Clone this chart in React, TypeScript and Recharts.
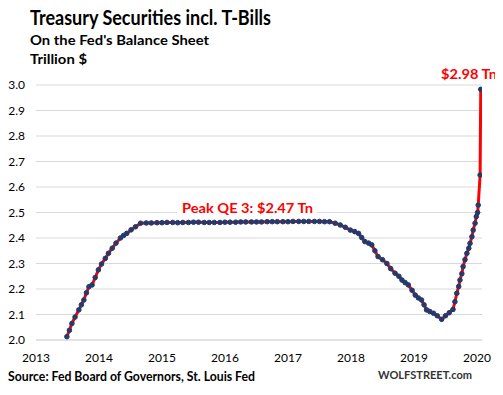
import { CartesianGrid, Line, LineChart, XAxis, YAxis } from 'recharts';

const years = [
  2013.49, 2013.53, 2013.57, 2013.62, 2013.68, 2013.72, 2013.76, 2013.8, 2013.84, 2013.89,
  2013.94, 2013.99, 2014.04, 2014.1, 2014.15, 2014.21, 2014.27, 2014.34, 2014.39, 2014.44,
  2014.51, 2014.58, 2014.66, 2014.75, 2014.83, 2014.92, 2015.0, 2015.08, 2015.17, 2015.25,
  2015.33, 2015.42, 2015.5, 2015.58, 2015.67, 2015.75, 2015.83, 2015.92, 2016.0, 2016.08,
  2016.17, 2016.25, 2016.33, 2016.42, 2016.5, 2016.58, 2016.67, 2016.75, 2016.83, 2016.92,
  2017.0, 2017.08, 2017.17, 2017.25, 2017.33, 2017.42, 2017.5, 2017.58, 2017.66, 2017.75,
  2017.83, 2017.91, 2017.99, 2018.06, 2018.12, 2018.17, 2018.22, 2018.28, 2018.33, 2018.38,
  2018.43, 2018.5, 2018.57, 2018.63, 2018.7, 2018.76, 2018.81, 2018.86, 2018.91, 2018.97,
  2019.02, 2019.07, 2019.12, 2019.16, 2019.2, 2019.25, 2019.31, 2019.37, 2019.44, 2019.5,
  2019.56, 2019.62, 2019.65, 2019.68, 2019.71, 2019.73, 2019.76, 2019.78, 2019.81, 2019.84,
  2019.87, 2019.89, 2019.92, 2019.94, 2019.97, 2019.99, 2020.01, 2020.02, 2020.05, 2020.06,
];

// trillion $
const holdings = [
  2.013, 2.038, 2.065, 2.09, 2.118, 2.138, 2.157, 2.185, 2.209, 2.216,
  2.245, 2.275, 2.298, 2.32, 2.34, 2.36, 2.38, 2.4, 2.41, 2.418,
  2.432, 2.444, 2.458, 2.459, 2.459, 2.46, 2.46, 2.461, 2.461, 2.46,
  2.461, 2.461, 2.462, 2.462, 2.461, 2.461, 2.461, 2.461, 2.462, 2.462,
  2.462, 2.463, 2.463, 2.463, 2.463, 2.463, 2.464, 2.464, 2.464, 2.464,
  2.464, 2.465, 2.465, 2.465, 2.465, 2.465, 2.465, 2.464, 2.464, 2.458,
  2.451, 2.442, 2.431, 2.425, 2.418, 2.402, 2.386, 2.38, 2.373, 2.35,
  2.327, 2.315, 2.3, 2.28, 2.262, 2.25, 2.235, 2.225, 2.216, 2.195,
  2.176, 2.165, 2.157, 2.138, 2.118, 2.112, 2.105, 2.095, 2.081, 2.095,
  2.107, 2.12, 2.15, 2.183, 2.21, 2.235, 2.26, 2.288, 2.315, 2.34,
  2.36, 2.379, 2.405, 2.431, 2.458, 2.484, 2.5, 2.529, 2.647, 2.983,
];

const yearTicks = [2013, 2014, 2015, 2016, 2017, 2018, 2019, 2020];
const valueTicks = [2.0, 2.1, 2.2, 2.3, 2.4, 2.5, 2.6, 2.7, 2.8, 2.9, 3.0];

const data = years.map((t, i) => ({ t, v: holdings[i] }));

const FONT = 'Lato, "Open Sans", sans-serif';

export default function App() {
  return (
    <div style={{ position: 'relative', width: 503, height: 395, margin: -8, background: '#fff' }}>
      <LineChart
        width={503}
        height={395}
        data={data}
        margin={{ top: 85, right: 21, bottom: 25, left: 6 }}
      >
        <CartesianGrid vertical={false} stroke="#d9d9d9" />
        <XAxis
          type="number"
          dataKey="t"
          domain={[2013, 2020.08]}
          ticks={yearTicks}
          allowDataOverflow
          height={30}
          tickLine={false}
          tickSize={0}
          tickMargin={13}
          axisLine={{ stroke: '#d9d9d9' }}
          tick={{ fill: '#000', fontSize: 12, fontFamily: FONT }}
        />
        <YAxis
          type="number"
          domain={[2, 3]}
          ticks={valueTicks}
          width={30}
          axisLine={false}
          tickLine={false}
          tickSize={0}
          tickMargin={11}
          tickFormatter={(v: number) => v.toFixed(1)}
          tick={{ fill: '#000', fontSize: 12, fontFamily: FONT }}
        />
        <Line
          type="linear"
          dataKey="v"
          stroke="#ff0000"
          strokeWidth={3}
          dot={{ r: 2.3, fill: '#243a6b', stroke: '#243a6b', strokeWidth: 1 }}
          isAnimationActive={false}
        />
      </LineChart>
      <svg
        width={503}
        height={395}
        style={{ position: 'absolute', left: 0, top: 0, pointerEvents: 'none' }}
        fontFamily={FONT}
        fontWeight="bold"
      >
        <text x={30} y={25} fontSize={20} textLength={241} lengthAdjust="spacingAndGlyphs">
          Treasury Securities incl. T-Bills
        </text>
        <text x={30} y={45} fontSize={14} textLength={179} lengthAdjust="spacingAndGlyphs">
          On the Fed's Balance Sheet
        </text>
        <text x={30} y={64} fontSize={14} textLength={57} lengthAdjust="spacingAndGlyphs">
          Trillion $
        </text>
        <rect x={177} y={200} width={140} height={16} fill="#fff" />
        <text x={182} y={213} fontSize={14} fill="#ff0000" textLength={131} lengthAdjust="spacingAndGlyphs">
          Peak QE 3: $2.47 Tn
        </text>
        <text x={441} y={79} fontSize={14} fill="#ff0000" textLength={56} lengthAdjust="spacingAndGlyphs">
          $2.98 Tn
        </text>
        <text x={8} y={381} fontSize={13} textLength={247} lengthAdjust="spacingAndGlyphs">
          Source: Fed Board of Governors, St. Louis Fed
        </text>
        <text x={378} y={379} fontSize={11} fill="#333" textLength={94} lengthAdjust="spacingAndGlyphs">
          WOLFSTREET.com
        </text>
      </svg>
    </div>
  );
}
